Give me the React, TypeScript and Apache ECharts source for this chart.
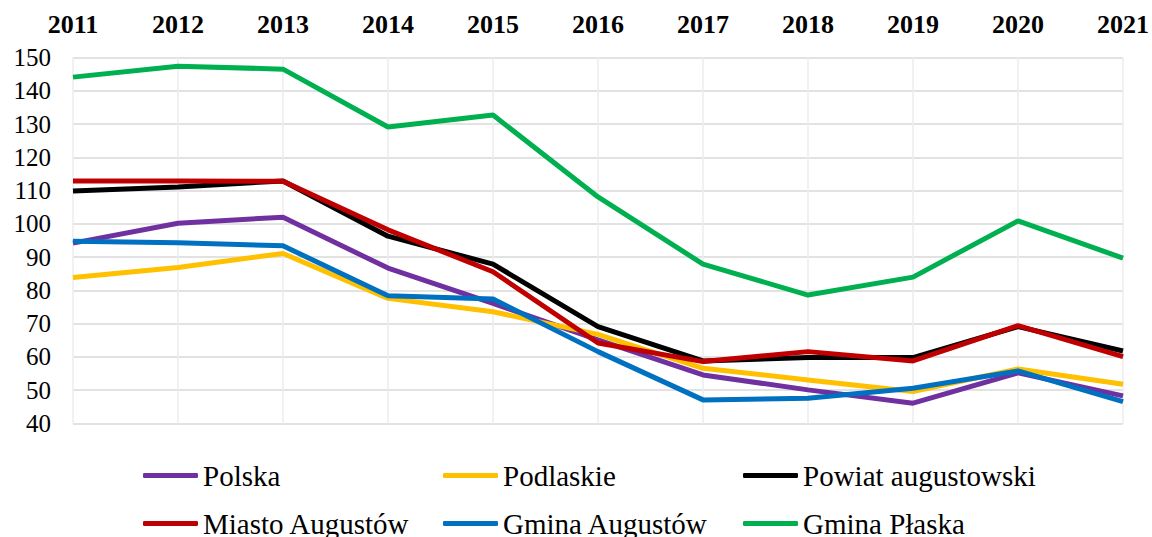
import React, { useEffect, useRef } from "react";
import * as echarts from "echarts";

const years = ["2011", "2012", "2013", "2014", "2015", "2016", "2017", "2018", "2019", "2020", "2021"];
const polska = [94.2, 100.2, 102.0, 86.7, 76.1, 65.1, 54.6, 50.1, 46.1, 55.2, 48.3];
const podlaskie = [83.9, 86.9, 91.1, 77.6, 73.6, 66.8, 56.6, 53.1, 49.6, 56.4, 51.8];
const powiat = [109.9, 111.1, 112.9, 96.3, 87.9, 69.1, 58.8, 59.8, 59.8, 69.1, 61.8];
const miasto = [112.9, 112.9, 112.8, 98.2, 85.6, 64.2, 58.6, 61.6, 58.8, 69.4, 60.1];
const gminaAugustow = [94.8, 94.3, 93.4, 78.4, 77.4, 61.6, 47.1, 47.6, 50.6, 55.8, 46.6];
const gminaPlaska = [144.1, 147.4, 146.5, 129.1, 132.7, 108.1, 87.9, 78.6, 84.0, 100.9, 89.7];

const seriesNames = ["Polska", "Podlaskie", "Powiat augustowski", "Miasto Augustów", "Gmina Augustów", "Gmina Płaska"];
const seriesData = [polska, podlaskie, powiat, miasto, gminaAugustow, gminaPlaska];
const seriesColors = ["#7030A0", "#FFC000", "#000000", "#C00000", "#0070C0", "#00B050"];

const FONT = "Liberation Serif";

export default function App() {
  const ref = useRef<HTMLDivElement>(null);
  useEffect(() => {
    if (!ref.current) return;
    const chart = echarts.init(ref.current, undefined, { renderer: "svg" });
    const legendPos = [
      { left: 138, top: 456 },
      { left: 438, top: 456 },
      { left: 738, top: 456 },
      { left: 138, top: 504 },
      { left: 438, top: 504 },
      { left: 738, top: 504 },
    ];
    chart.setOption({
      animation: false,
      grid: { left: 73, right: 27, top: 57.5, bottom: 113.5 },
      xAxis: {
        type: "category",
        position: "top",
        data: years,
        boundaryGap: false,
        axisLine: { show: false },
        axisTick: { show: false },
        axisLabel: {
          color: "#000",
          fontFamily: FONT,
          fontWeight: "bold",
          fontSize: 26,
          margin: 20,
        },
        splitLine: { show: true, lineStyle: { color: "#ececec", width: 1.5 } },
      },
      yAxis: {
        type: "value",
        min: 40,
        max: 150,
        interval: 10,
        axisLine: { show: false },
        axisTick: { show: false },
        axisLabel: { color: "#000", fontFamily: FONT, fontSize: 25, margin: 22 },
        splitLine: { show: true, lineStyle: { color: "#d9d9d9", width: 1.5 } },
      },
      legend: seriesNames.map((n, i) => ({
        data: [n],
        left: legendPos[i].left,
        top: legendPos[i].top,
        icon: "roundRect",
        itemWidth: 55,
        itemHeight: 5,
        selectedMode: false,
        textStyle: { color: "#000", fontFamily: FONT, fontSize: 29 },
      })),
      series: seriesNames.map((n, i) => ({
        name: n,
        type: "line",
        data: seriesData[i],
        symbol: "none",
        color: seriesColors[i],
        lineStyle: { width: 5, color: seriesColors[i] },
      })),
    });
    return () => chart.dispose();
  }, []);
  return <div ref={ref} style={{ width: 1152, height: 537, position: "absolute", left: 0, top: 0 }} />;
}
